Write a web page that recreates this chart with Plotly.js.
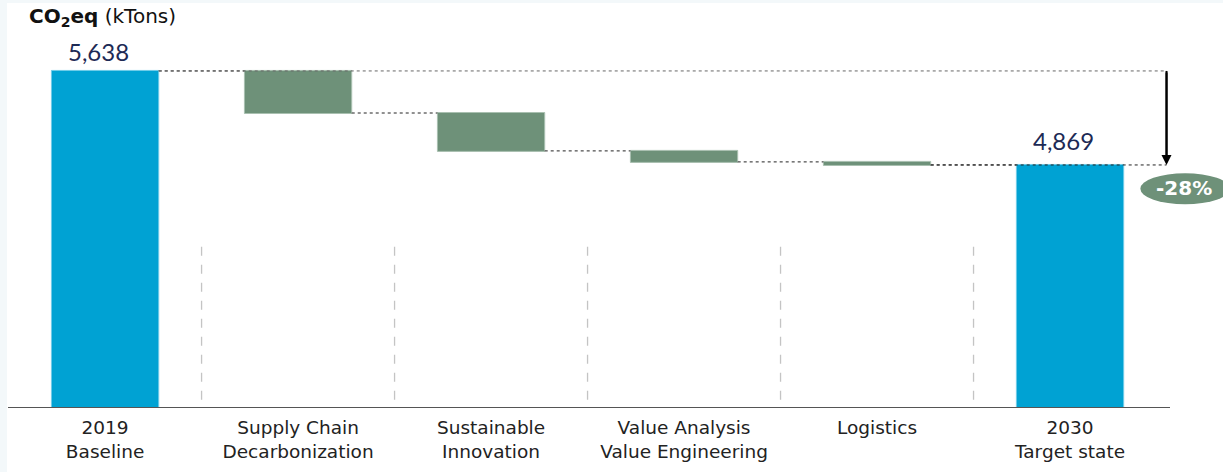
<!DOCTYPE html>
<html>
<head>
<meta charset="utf-8">
<script src="https://cdn.plot.ly/plotly-3.0.1.min.js"></script>
<style>
html,body{margin:0;padding:0;background:#f3f8fa;width:1223px;height:472px;overflow:hidden;}
#chart{position:absolute;left:7px;top:3px;width:1216px;height:469px;background:#fff;}
</style>
</head>
<body>
<div id="chart"></div>
<script>
const categories = ["2019<br>Baseline", "Supply Chain<br>Decarbonization", "Sustainable<br>Innovation", "Value Analysis<br>Value Engineering", "Logistics", "2030<br>Target state"];
const measures = ["absolute", "relative", "relative", "relative", "relative", "total"];
const values = [5638, -344, -310, -90, -25, 0];
const baseline = 5638;
const target = 4869;
const changeLabel = "-28%";

const blue = "#00a2d3";
const green = "#6e9179";
const barW = 0.556;

const trace = {
  type: "waterfall",
  x: categories,
  y: values,
  measure: measures,
  width: categories.map(() => barW),
  decreasing: {marker: {color: green, line: {color: "#a9c0b0", width: 1}}},
  increasing: {marker: {color: green}},
  totals: {marker: {color: blue, line: {color: "#6fcbe8", width: 1}}},
  connector: {mode: "between", line: {color: "#222", width: 1, dash: "dot"}},
  textposition: "none",
  hoverinfo: "skip"
};

const fmt = v => v.toLocaleString("en-US");
const sepShapes = [0.5, 1.5, 2.5, 3.5, 4.5].map(xv => ({
  type: "line", xref: "x", yref: "paper", x0: xv, x1: xv, y0: 0.019, y1: 0.43,
  line: {color: "#c4c4c4", width: 1.3, dash: "dash"}
}));

const layout = {
  width: 1216, height: 469,
  margin: {l: 1, r: 53, t: 27, b: 65},
  paper_bgcolor: "#ffffff",
  plot_bgcolor: "#ffffff",
  showlegend: false,
  xaxis: {
    type: "category",
    range: [-0.503, 5.518],
    showline: true, linecolor: "#555", linewidth: 1,
    showgrid: false, zeroline: false,
    ticks: "", ticklen: 0,
    ticklabelstandoff: 4,
    tickfont: {family: "DejaVu Sans", size: 18.5, color: "#222"},
    fixedrange: true
  },
  yaxis: {
    range: [2889, 5973],
    visible: false, showgrid: false, zeroline: false, fixedrange: true
  },
  shapes: sepShapes.concat([
    {type: "line", xref: "x", yref: "y", x0: barW / 2, x1: 5.5, y0: baseline, y1: baseline,
     line: {color: "#666", width: 1, dash: "dot"}},
    {type: "line", xref: "x", yref: "y", x0: 4 + barW / 2, x1: 5.5, y0: target, y1: target,
     line: {color: "#222", width: 1, dash: "dot"}},
    {type: "line", xref: "x", yref: "y", x0: 5.5, x1: 5.5, y0: baseline, y1: target + 60,
     line: {color: "#000", width: 2}},
    {type: "circle", xref: "paper", yref: "paper", x0: 0.9745, x1: 1.0515, y0: 0.538, y1: 0.62,
     fillcolor: green, line: {width: 0}}
  ]),
  annotations: [
    {xref: "paper", yref: "paper", x: 0.0165, y: 1.034, xanchor: "left", yanchor: "middle",
     showarrow: false, text: "<b>CO<sub>2</sub>eq</b> (kTons)",
     font: {family: "DejaVu Sans", size: 20, color: "#111"}},
    {xref: "x", yref: "y", x: 0, y: baseline, xanchor: "center", yanchor: "bottom",
     xshift: -7, yshift: 3, showarrow: false, text: fmt(baseline),
     font: {family: "Lato", size: 24, color: "#1d2a55"}},
    {xref: "x", yref: "y", x: 5, y: target, xanchor: "center", yanchor: "bottom",
     xshift: -7, yshift: 8, showarrow: false, text: fmt(target),
     font: {family: "Lato", size: 24, color: "#1d2a55"}},
    {xref: "x", yref: "y", x: 5.5, y: target, axref: "x", ayref: "y", ax: 5.5, ay: baseline,
     showarrow: true, arrowhead: 2, arrowsize: 1, arrowwidth: 2, arrowcolor: "#000", text: ""},
    {xref: "paper", yref: "paper", x: 1.012, y: 0.58, xanchor: "center", yanchor: "middle",
     showarrow: false, text: "<b>" + changeLabel + "</b>",
     font: {family: "DejaVu Sans", size: 20, color: "#fff"}}
  ]
};

Plotly.newPlot("chart", [trace], layout, {staticPlot: true, displayModeBar: false});
</script>
</body>
</html>
